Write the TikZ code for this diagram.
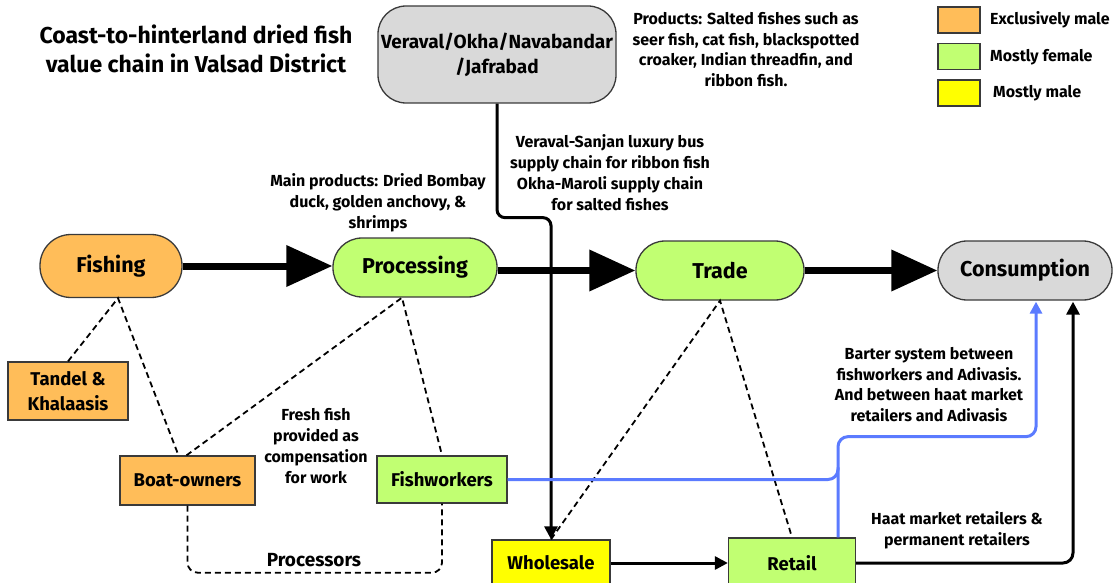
\documentclass[tikz,border=0pt]{standalone}
\usepackage{fontspec}
\setmainfont{Fira Sans}
\usetikzlibrary{arrows.meta,calc}
\definecolor{orangebox}{HTML}{FFBD59}
\definecolor{greenbox}{HTML}{C1FF72}
\definecolor{graybox}{HTML}{D9D9D9}
\definecolor{yellowbox}{HTML}{FFFF00}
\definecolor{bluelink}{HTML}{5B7BFF}
\definecolor{edge}{HTML}{3A3A3A}
\begin{document}
\begin{tikzpicture}[x=1pt,y=-1pt,
  pill/.style={draw=edge,line width=1.3pt,rounded corners=29pt,minimum height=59pt,inner sep=0pt,font=\bfseries\fontsize{21.5}{24}\selectfont},
  rect/.style={draw=edge,line width=1.3pt,inner sep=0pt,align=center,font=\bfseries\fontsize{18.5}{25}\selectfont},
  note/.style={align=center,inner sep=0pt,font=\bfseries\fontsize{16}{20.8}\selectfont},
  mainarrow/.style={line width=7pt,-{Triangle[length=46pt,width=40pt]}},
  thinarrow/.style={line width=3pt,-{Triangle[length=13pt,width=13pt]}},
  dsh/.style={line width=1.8pt,dash pattern=on 6pt off 4pt},
  bluearrow/.style={draw=bluelink,line width=3pt,rounded corners=10pt},
  legbox/.style={draw=edge,line width=1.3pt,minimum width=42pt,minimum height=26pt,inner sep=0pt},
  legtext/.style={anchor=west,inner sep=0pt,font=\bfseries\fontsize{16}{18}\selectfont},
]
\useasboundingbox (0,0) rectangle (1120,583);

% title
\node[align=center,inner sep=0pt,font=\bfseries\fontsize{23}{29}\selectfont] (title) at (196,48.5) {Coast-to-hinterland dried fish\\value chain in Valsad District};

% legend
\node[legbox,fill=orangebox] (lg1) at (959,20) {};
\node[legbox,fill=greenbox] (lg2) at (959,56.5) {};
\node[legbox,fill=yellowbox] (lg3) at (959,93) {};
\node[legtext] (lt1) at (990,20) {Exclusively male};
\node[legtext] (lt2) at (990,57) {Mostly female};
\node[legtext] (lt3) at (993,93) {Mostly male};

% main chain
\node[pill,fill=orangebox,minimum width=142pt,minimum height=63pt,rounded corners=31pt] (fishing) at (111,266) {Fishing};
\node[pill,fill=greenbox,minimum width=164pt] (processing) at (415,267.5) {Processing};
\node[pill,fill=greenbox,minimum width=168pt] (trade) at (720,270.5) {Trade};
\node[pill,fill=graybox,minimum width=174pt] (cons) at (1025,270.5) {Consumption};

\node[draw=edge,line width=1.3pt,fill=graybox,rounded corners=28pt,minimum width=238pt,minimum height=97pt,inner sep=0pt,align=center,font=\bfseries\fontsize{19}{25}\selectfont] (src) at (497,54.5) {Veraval/Okha/Navabandar\\/Jafrabad};

% boxes
\node[rect,fill=orangebox,minimum width=120pt,minimum height=58pt] (tandel) at (68,391) {Tandel \&\\Khalaasis};
\node[rect,fill=orangebox,minimum width=135pt,minimum height=49pt] (boat) at (187.5,480.5) {Boat-owners};
\node[rect,fill=greenbox,minimum width=130pt,minimum height=47pt] (fw) at (442,479.5) {Fishworkers};
\node[rect,fill=yellowbox,minimum width=118pt,minimum height=46pt] (wholesale) at (551,563) {Wholesale};
\node[rect,fill=greenbox,minimum width=127pt,minimum height=50pt] (retail) at (792,563) {Retail};

% notes
\node[note] (n1) at (746,49.5) {Products: Salted fishes such as\\seer fish, cat fish, blackspotted\\croaker, Indian threadfin, and\\ribbon fish.};
\node[note] (n2) at (610,172.5) {Veraval-Sanjan luxury bus\\supply chain for ribbon fish\\Okha-Maroli supply chain\\for salted fishes};
\node[note] (n3) at (378,203) {Main products: Dried Bombay\\duck, golden anchovy, \&\\shrimps};
\node[note] (n4) at (316,446) {Fresh fish\\provided as\\compensation\\for work};
\node[note] (n5) at (929,384.5) {Barter system between\\fishworkers and Adivasis.\\And between haat market\\retailers and Adivasis};
\node[note] (n6) at (957,530.5) {Haat market retailers \&\\permanent retailers};
\node[inner sep=0pt,font=\bfseries\fontsize{19}{20}\selectfont] (proc) at (314,560) {Processors};

% main arrows
\draw[mainarrow] (fishing.east) -- (fishing.east -| processing.west);
\draw[mainarrow] (trade.west -| processing.east) -- (trade.west);
\draw[mainarrow] (trade.east) -- (cons.west);

% source line
\draw[thinarrow,rounded corners=8pt] (src.south) -- ++(0,114) -| (wholesale.north);

% dashed relations
\draw[dsh] (tandel.north) -- ($(fishing.south)+(7,0)$) -- ($(boat.north)+(-9,0)$);
\draw[dsh] ($(boat.north)+(-1,0)$) -- ($(processing.south)+(-13,0)$) -- (fw.north);
\draw[dsh] (wholesale.north) -- (trade.south) -- (retail.north);
\draw[dsh,rounded corners=10pt] (boat.south) -- ++(0,67) -| (fw.south);

% blue barter links
\draw[bluearrow] (fw.east) -| ($(retail.north)+(46,-70)$);
\draw[bluearrow,-{Triangle[length=12pt,width=12pt]}] ($(retail.north)+(46,0)$) |- ($(cons.south)+(11,136)$) -- ($(cons.south)+(11,1)$);

% retail to consumption
\draw[thinarrow] (wholesale.east) -- (retail.west);
\draw[thinarrow,rounded corners=10pt] (retail.east) -| ($(cons.south)+(48,1)$);
\end{tikzpicture}
\end{document}
